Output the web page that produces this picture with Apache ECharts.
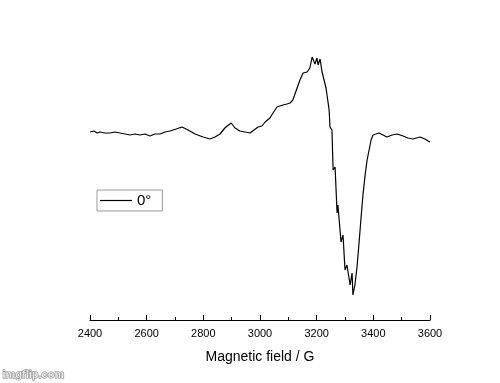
<!DOCTYPE html>
<html>
<head>
<meta charset="utf-8">
<script src="https://cdn.jsdelivr.net/npm/echarts@6/dist/echarts.min.js"></script>
<style>
  html, body { margin: 0; padding: 0; background: #fff; }
  #main { width: 500px; height: 383px; }
</style>
</head>
<body>
<div id="main"></div>
<script>
// magnetic field (G) and signal (arbitrary units)
var field = [2400, 2414, 2425, 2435, 2453, 2471, 2488, 2506, 2524, 2541, 2559, 2576, 2594, 2612, 2629, 2647, 2665, 2682, 2704, 2725, 2746, 2771, 2799, 2824, 2841, 2859, 2876, 2898, 2912, 2929, 2947, 2965, 2979, 2993, 3007, 3018, 3035, 3046, 3060, 3081, 3095, 3106, 3116, 3131, 3141, 3152, 3166, 3176, 3184, 3194, 3201, 3205, 3212, 3219, 3226, 3233, 3240, 3244, 3247, 3254, 3258, 3265, 3272, 3275, 3286, 3293, 3300, 3307, 3318, 3325, 3328, 3335, 3342, 3349, 3356, 3364, 3371, 3378, 3385, 3392, 3399, 3406, 3420, 3434, 3448, 3466, 3484, 3505, 3522, 3540, 3565, 3582, 3600];
var signal = [188, 189, 187, 188, 187, 187, 188, 187, 186, 185, 186, 185, 186, 184, 186, 186, 188, 189, 191, 193, 190, 186, 183, 181, 183, 186, 192, 197, 192, 189, 188, 187, 190, 193, 194, 198, 202, 207, 213, 215, 216, 217, 220, 232, 240, 247, 248, 252, 263, 256, 262, 255, 261, 248, 246, 232, 230, 210, 193, 190, 150, 153, 107, 115, 78, 85, 50, 55, 35, 47, 25, 35, 52, 75, 100, 127, 145, 160, 170, 180, 185, 184, 187, 185, 183, 185, 186, 184, 182, 181, 183, 181, 178];
var xTicks = [2400, 2600, 2800, 3000, 3200, 3400, 3600];

var chart = echarts.init(document.getElementById('main'));

var data = field.map(function (f, i) { return [f, signal[i]]; });

var option = {
  backgroundColor: '#fff',
  animation: false,
  grid: { left: 90, top: 40, width: 340, height: 280 },
  legend: {
    left: 97,
    top: 190,
    orient: 'vertical',
    padding: [3, 11, 3, 3],
    borderColor: '#999',
    borderWidth: 1,
    icon: 'rect',
    itemWidth: 32,
    itemHeight: 1.2,
    itemGap: 4,
    textStyle: { fontFamily: 'Liberation Sans, Arial, sans-serif', fontSize: 15, color: '#000' },
    data: ['0°']
  },
  xAxis: {
    type: 'value',
    min: 2400,
    max: 3600,
    interval: 200,
    name: 'Magnetic field / G',
    nameLocation: 'middle',
    nameGap: 30,
    nameTextStyle: { fontFamily: 'Liberation Sans, Arial, sans-serif', fontSize: 14, color: '#000' },
    axisLine: { show: true, lineStyle: { color: '#000', width: 1 } },
    axisTick: { show: true, inside: true, length: 5, lineStyle: { color: '#000' } },
    minorTick: { show: true, splitNumber: 2, length: 3, lineStyle: { color: '#000' } },
    splitLine: { show: false },
    axisLabel: {
      margin: 8,
      fontFamily: 'Liberation Sans, Arial, sans-serif',
      fontSize: 11,
      color: '#000',
      formatter: function (v) { return xTicks.indexOf(v) >= 0 ? String(v) : ''; }
    }
  },
  yAxis: {
    type: 'value',
    min: 0,
    max: 280,
    show: false
  },
  series: [{
    name: '0°',
    type: 'line',
    data: data,
    showSymbol: false,
    symbol: 'none',
    lineStyle: { color: '#000', width: 1.2 },
    itemStyle: { color: '#000' }
  }],
  graphic: [{
    type: 'text',
    left: 2,
    top: 369,
    style: {
      text: 'imgflip.com',
      font: 'bold 11px Liberation Sans, Arial, sans-serif',
      fill: '#e6e6e6',
      stroke: '#777',
      lineWidth: 1
    }
  }]
};

chart.setOption(option);
</script>
</body>
</html>
